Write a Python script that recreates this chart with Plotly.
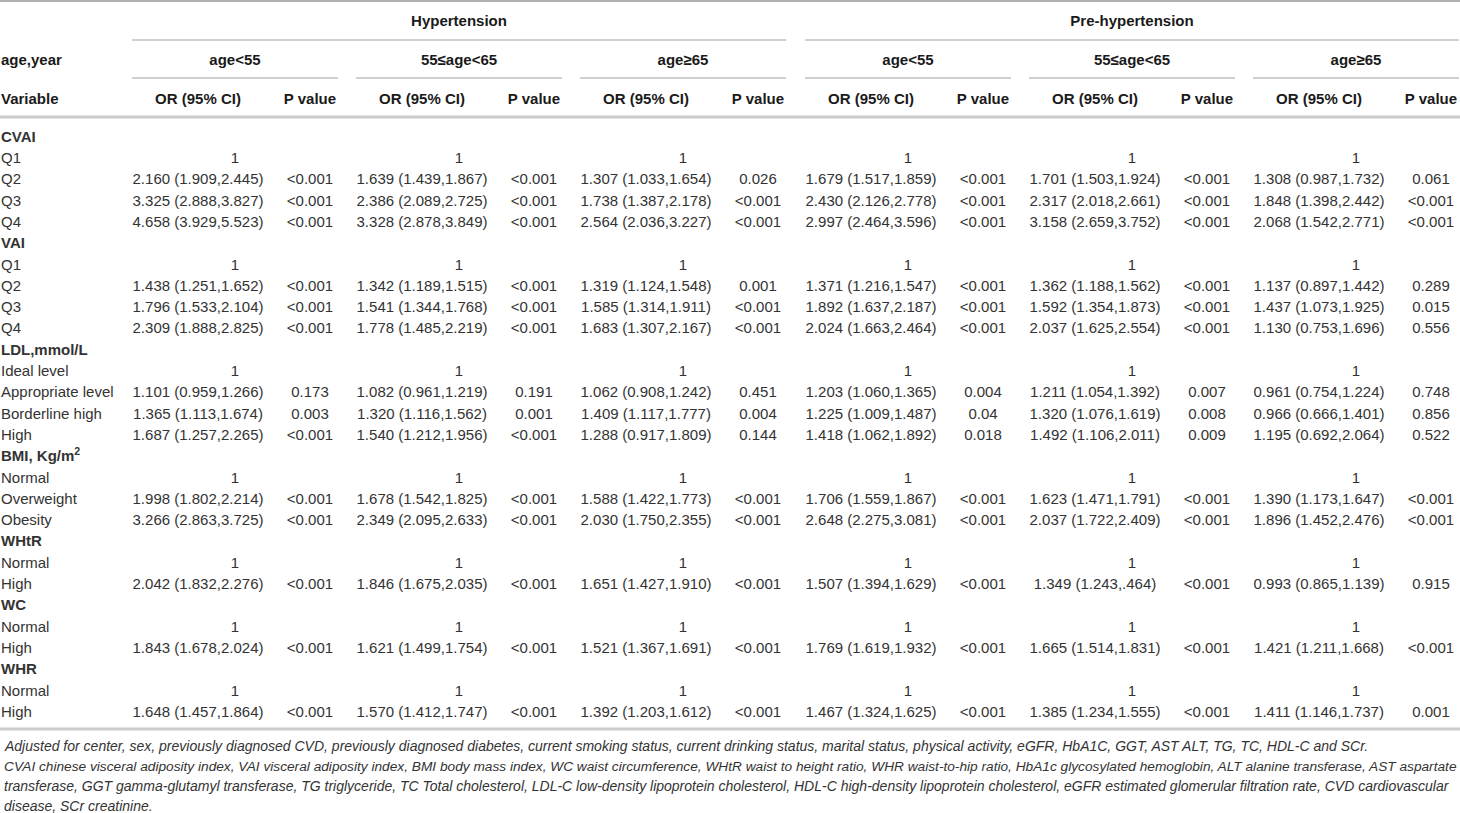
import plotly.graph_objects as go

# ---------------- DATA ----------------
row_labels = ["CVAI", "Q1", "Q2", "Q3", "Q4",
              "VAI", "Q1", "Q2", "Q3", "Q4",
              "LDL,mmol/L", "Ideal level", "Appropriate level", "Borderline high", "High",
              "BMI, Kg/m<sup>2</sup>", "Normal", "Overweight", "Obesity",
              "WHtR", "Normal", "High",
              "WC", "Normal", "High",
              "WHR", "Normal", "High"]
group_row_index = [0, 5, 10, 15, 19, 22, 25]

outcomes = ["Hypertension", "Pre-hypertension"]
age_groups = ["age<55", "55≤age<65", "age≥65"]
col_headers = ["OR (95% CI)", "P value"]

# Hypertension, age<55
or_h1 = ["", "1", "2.160 (1.909,2.445)", "3.325 (2.888,3.827)", "4.658 (3.929,5.523)",
         "", "1", "1.438 (1.251,1.652)", "1.796 (1.533,2.104)", "2.309 (1.888,2.825)",
         "", "1", "1.101 (0.959,1.266)", "1.365 (1.113,1.674)", "1.687 (1.257,2.265)",
         "", "1", "1.998 (1.802,2.214)", "3.266 (2.863,3.725)",
         "", "1", "2.042 (1.832,2.276)",
         "", "1", "1.843 (1.678,2.024)",
         "", "1", "1.648 (1.457,1.864)"]
p_h1 = ["", "", "<0.001", "<0.001", "<0.001",
        "", "", "<0.001", "<0.001", "<0.001",
        "", "", "0.173", "0.003", "<0.001",
        "", "", "<0.001", "<0.001",
        "", "", "<0.001",
        "", "", "<0.001",
        "", "", "<0.001"]
# Hypertension, 55<=age<65
or_h2 = ["", "1", "1.639 (1.439,1.867)", "2.386 (2.089,2.725)", "3.328 (2.878,3.849)",
         "", "1", "1.342 (1.189,1.515)", "1.541 (1.344,1.768)", "1.778 (1.485,2.219)",
         "", "1", "1.082 (0.961,1.219)", "1.320 (1.116,1.562)", "1.540 (1.212,1.956)",
         "", "1", "1.678 (1.542,1.825)", "2.349 (2.095,2.633)",
         "", "1", "1.846 (1.675,2.035)",
         "", "1", "1.621 (1.499,1.754)",
         "", "1", "1.570 (1.412,1.747)"]
p_h2 = ["", "", "<0.001", "<0.001", "<0.001",
        "", "", "<0.001", "<0.001", "<0.001",
        "", "", "0.191", "0.001", "<0.001",
        "", "", "<0.001", "<0.001",
        "", "", "<0.001",
        "", "", "<0.001",
        "", "", "<0.001"]
# Hypertension, age>=65
or_h3 = ["", "1", "1.307 (1.033,1.654)", "1.738 (1.387,2.178)", "2.564 (2.036,3.227)",
         "", "1", "1.319 (1.124,1.548)", "1.585 (1.314,1.911)", "1.683 (1.307,2.167)",
         "", "1", "1.062 (0.908,1.242)", "1.409 (1.117,1.777)", "1.288 (0.917,1.809)",
         "", "1", "1.588 (1.422,1.773)", "2.030 (1.750,2.355)",
         "", "1", "1.651 (1.427,1.910)",
         "", "1", "1.521 (1.367,1.691)",
         "", "1", "1.392 (1.203,1.612)"]
p_h3 = ["", "", "0.026", "<0.001", "<0.001",
        "", "", "0.001", "<0.001", "<0.001",
        "", "", "0.451", "0.004", "0.144",
        "", "", "<0.001", "<0.001",
        "", "", "<0.001",
        "", "", "<0.001",
        "", "", "<0.001"]
# Pre-hypertension, age<55
or_p1 = ["", "1", "1.679 (1.517,1.859)", "2.430 (2.126,2.778)", "2.997 (2.464,3.596)",
         "", "1", "1.371 (1.216,1.547)", "1.892 (1.637,2.187)", "2.024 (1.663,2.464)",
         "", "1", "1.203 (1.060,1.365)", "1.225 (1.009,1.487)", "1.418 (1.062,1.892)",
         "", "1", "1.706 (1.559,1.867)", "2.648 (2.275,3.081)",
         "", "1", "1.507 (1.394,1.629)",
         "", "1", "1.769 (1.619,1.932)",
         "", "1", "1.467 (1.324,1.625)"]
p_p1 = ["", "", "<0.001", "<0.001", "<0.001",
        "", "", "<0.001", "<0.001", "<0.001",
        "", "", "0.004", "0.04", "0.018",
        "", "", "<0.001", "<0.001",
        "", "", "<0.001",
        "", "", "<0.001",
        "", "", "<0.001"]
# Pre-hypertension, 55<=age<65
or_p2 = ["", "1", "1.701 (1.503,1.924)", "2.317 (2.018,2.661)", "3.158 (2.659,3.752)",
         "", "1", "1.362 (1.188,1.562)", "1.592 (1.354,1.873)", "2.037 (1.625,2.554)",
         "", "1", "1.211 (1.054,1.392)", "1.320 (1.076,1.619)", "1.492 (1.106,2.011)",
         "", "1", "1.623 (1.471,1.791)", "2.037 (1.722,2.409)",
         "", "1", "1.349 (1.243,.464)",
         "", "1", "1.665 (1.514,1.831)",
         "", "1", "1.385 (1.234,1.555)"]
p_p2 = ["", "", "<0.001", "<0.001", "<0.001",
        "", "", "<0.001", "<0.001", "<0.001",
        "", "", "0.007", "0.008", "0.009",
        "", "", "<0.001", "<0.001",
        "", "", "<0.001",
        "", "", "<0.001",
        "", "", "<0.001"]
# Pre-hypertension, age>=65
or_p3 = ["", "1", "1.308 (0.987,1.732)", "1.848 (1.398,2.442)", "2.068 (1.542,2.771)",
         "", "1", "1.137 (0.897,1.442)", "1.437 (1.073,1.925)", "1.130 (0.753,1.696)",
         "", "1", "0.961 (0.754,1.224)", "0.966 (0.666,1.401)", "1.195 (0.692,2.064)",
         "", "1", "1.390 (1.173,1.647)", "1.896 (1.452,2.476)",
         "", "1", "0.993 (0.865,1.139)",
         "", "1", "1.421 (1.211,1.668)",
         "", "1", "1.411 (1.146,1.737)"]
p_p3 = ["", "", "0.061", "<0.001", "<0.001",
        "", "", "0.289", "0.015", "0.556",
        "", "", "0.748", "0.856", "0.522",
        "", "", "<0.001", "<0.001",
        "", "", "0.915",
        "", "", "<0.001",
        "", "", "0.001"]

footnotes = [
    "Adjusted for center, sex, previously diagnosed CVD, previously diagnosed diabetes, current smoking status, current drinking status, marital status, physical activity, eGFR, HbA1C, GGT, AST ALT, TG, TC, HDL-C and SCr.",
    "CVAI chinese visceral adiposity index, VAI visceral adiposity index, BMI body mass index, WC waist circumference, WHtR waist to height ratio, WHR waist-to-hip ratio, HbA1c glycosylated hemoglobin, ALT alanine transferase, AST aspartate",
    "transferase, GGT gamma-glutamyl transferase, TG triglyceride, TC Total cholesterol, LDL-C low-density lipoprotein cholesterol, HDL-C high-density lipoprotein cholesterol, eGFR estimated glomerular filtration rate, CVD cardiovascular",
    "disease, SCr creatinine.",
]

or_cols = [or_h1, or_h2, or_h3, or_p1, or_p2, or_p3]
p_cols = [p_h1, p_h2, p_h3, p_p1, p_p2, p_p3]

# ---------------- LAYOUT CONSTANTS ----------------
W, H = 1460, 813
FONT = "Liberation Sans"
TXT = "#333333"
HDR = "#1a1a1a"
FS = 15

group_starts = [132, 356, 580, 805, 1029, 1253]
group_width = 206
or_off, p_off = 66, 178

y_hdr1, y_hdr2, y_hdr3 = 22, 61, 100
y_row0, dy = 138, 21.3
y_foot0, dy_foot = 746, 20
foot_sizes = [14, 13.7, 14, 14]
x_left = 1


def esc(s):
    return s.replace("<0", "&lt;0").replace("age<", "age&lt;")


row_y = [y_row0 + i * dy for i in range(len(row_labels))]

fig = go.Figure()


def add_text(xs, ys, texts, pos="middle center", color=TXT, size=FS):
    fig.add_trace(go.Scatter(
        x=xs, y=ys, text=texts, mode="text", textposition=pos,
        textfont=dict(family=FONT, size=size, color=color),
        hoverinfo="skip", showlegend=False, cliponaxis=False))


# variable labels
labels = [("<b>%s</b>" % l) if i in group_row_index else l
          for i, l in enumerate(row_labels)]
add_text([x_left] * len(labels), row_y, labels, pos="middle right")

# header row texts at left
add_text([x_left, x_left], [y_hdr2, y_hdr3], ["<b>age,year</b>", "<b>Variable</b>"],
         pos="middle right", color=HDR)

# outcome headers
out_x = [(group_starts[0] + group_starts[2] + group_width) / 2,
         (group_starts[3] + group_starts[5] + group_width) / 2]
add_text(out_x, [y_hdr1] * 2, ["<b>%s</b>" % o for o in outcomes], color=HDR)

# age group headers and column headers
ag_x, ag_t, ch_x, ch_t = [], [], [], []
for g, gs in enumerate(group_starts):
    ag_x.append(gs + group_width / 2)
    ag_t.append("<b>%s</b>" % esc(age_groups[g % 3]))
    ch_x += [gs + or_off, gs + p_off]
    ch_t += ["<b>%s</b>" % c for c in col_headers]
add_text(ag_x, [y_hdr2] * 6, ag_t, color=HDR)
add_text(ch_x, [y_hdr3] * 12, ch_t, color=HDR)

# body cells
for g, gs in enumerate(group_starts):
    orv, pv = or_cols[g], p_cols[g]
    ref_y = [row_y[i] for i in range(len(orv)) if orv[i] == "1"]
    add_text([gs + group_width / 2] * len(ref_y), ref_y, ["1"] * len(ref_y))
    idx = [i for i in range(len(orv)) if orv[i] not in ("", "1")]
    add_text([gs + or_off] * len(idx), [row_y[i] for i in idx], [orv[i] for i in idx])
    idx = [i for i in range(len(pv)) if pv[i] != ""]
    add_text([gs + p_off] * len(idx), [row_y[i] for i in idx], [esc(pv[i]) for i in idx])

# footnotes
for k, t in enumerate(footnotes):
    fig.add_annotation(x=2, y=y_foot0 + k * dy_foot, xref="x", yref="y",
                       text="<i>%s</i>" % t, showarrow=False, xanchor="left",
                       yanchor="middle", font=dict(family=FONT, size=foot_sizes[k], color=TXT))

# rules
shapes = []
def hline(x0, x1, y, color, width):
    shapes.append(dict(type="line", xref="x", yref="y", x0=x0, x1=x1, y0=y, y1=y,
                       line=dict(color=color, width=width)))

hline(0, W, 1, "#b0b0b0", 2)
hline(group_starts[0], group_starts[2] + group_width, 40, "#a0a0a0", 1)
hline(group_starts[3], group_starts[5] + group_width, 40, "#a0a0a0", 1)
for gs in group_starts:
    hline(gs, gs + group_width, 78, "#a0a0a0", 1)
hline(0, W, 117, "#cccccc", 3)
hline(0, W, 729, "#cccccc", 3)

fig.update_layout(
    width=W, height=H, margin=dict(l=0, r=0, t=0, b=0),
    paper_bgcolor="white", plot_bgcolor="white", shapes=shapes,
    xaxis=dict(range=[0, W], visible=False, fixedrange=True),
    yaxis=dict(range=[H, 0], visible=False, fixedrange=True),
    showlegend=False,
)

fig.write_html("out.html", config={"displayModeBar": False},
               post_script="document.body.style.margin='0';document.body.style.overflow='hidden';")
